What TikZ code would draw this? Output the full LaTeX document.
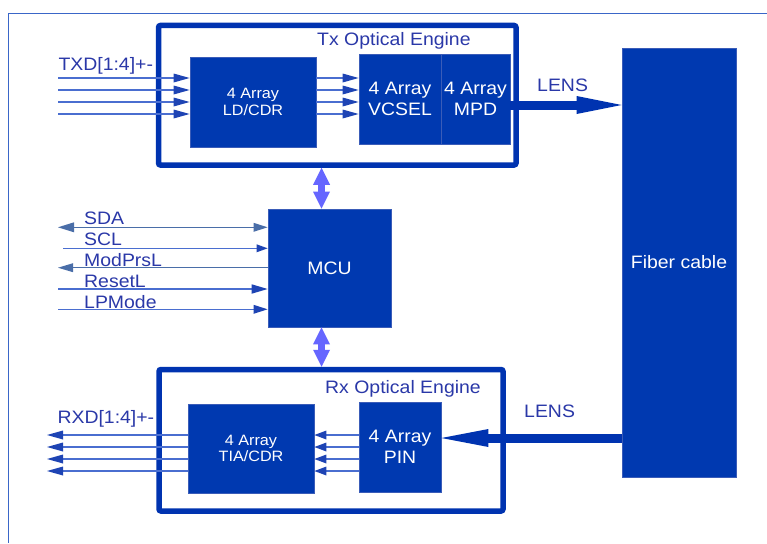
\documentclass[tikz,border=0pt]{standalone}
\usepackage{fontspec}
\setmainfont[FakeStretch=1.08]{Liberation Sans}
\usetikzlibrary{arrows.meta}
\definecolor{blk}{HTML}{0039B0}
\definecolor{blkedge}{HTML}{3A5CB8}
\definecolor{eng}{HTML}{0033B0}
\definecolor{lblc}{HTML}{2A38A8}
\definecolor{sig}{HTML}{4A6ED0}
\definecolor{sigh}{HTML}{1E44B4}
\definecolor{steel}{HTML}{4A6EA8}
\definecolor{framec}{HTML}{3A66C8}
\definecolor{bus}{HTML}{6666FF}
\begin{document}
\begin{tikzpicture}[x=1pt,y=-1pt,
  block/.style={draw=blkedge, line width=0.8pt, fill=blk, text=white, inner sep=0pt, align=center},
  engine/.style={draw=eng, line width=5.5pt, rounded corners=2pt, inner sep=0pt},
  lbl/.style={text=lblc, inner sep=0pt, anchor=base west, font=\fontsize{18}{21}\selectfont},
  big/.style={font=\fontsize{18}{21.5}\selectfont},
  small/.style={font=\fontsize{15}{16.5}\selectfont},
  sigline/.style={draw=sig, line width=1.1pt},
  steelline/.style={draw=steel, line width=1.2pt},
  lens/.style={draw=eng, line width=9pt},
  busarrow/.style={draw=bus, line width=6.5pt, {Triangle[length=17pt,width=17pt,line width=0pt]}-{Triangle[length=17pt,width=17pt,line width=0pt]}}
]
\fill[white] (0,0) rectangle (767,543);
\useasboundingbox (0,0) rectangle (767,543);
% outer frame
\draw[framec, line width=1.5pt] (767,13.3) -- (8.3,13.3) -- (8.3,543);

% engines
\node[engine, minimum width=357.5pt, minimum height=139.5pt] (tx) at (337.25,95.25) {};
\node[engine, minimum width=344pt, minimum height=141.5pt] (rx) at (331,440.25) {};
\node[lbl] (txt) at (317,45.7) {Tx Optical Engine};
\node[lbl] (rxt) at (325,393.3) {Rx Optical Engine};

% blocks
\node[block, small, minimum width=126pt, minimum height=90pt] (ld) at (253,102) {4 Array\\LD/CDR};
\node[block, big, minimum width=82pt, minimum height=90pt] (vcsel) at (400,99) {4 Array\\VCSEL};
\node[block, big, minimum width=69pt, minimum height=90pt] (mpd) at (475.5,99) {4 Array\\MPD};
\node[block, big, minimum width=123pt, minimum height=118pt] (mcu) at (329.5,268) {MCU};
\node[block, small, minimum width=126pt, minimum height=89pt] (tia) at (251,448.5) {4 Array\\TIA/CDR};
\node[block, big, minimum width=82pt, minimum height=90pt] (pin) at (400,447) {4 Array\\PIN};
\node[block, big, minimum width=114pt, minimum height=429pt] (fiber) at (679,262.5) {Fiber cable};

% labels
\node[lbl] (txdl) at (58.3,70.5) {TXD[1:4]+-};
\node[lbl] (rxdl) at (57.3,423.3) {RXD[1:4]+-};
\node[lbl] (lens1l) at (537,91) {LENS};
\node[lbl] (lens2l) at (524,417) {LENS};
\node[lbl] (sdal) at (84,224) {SDA};
\node[lbl] (scll) at (84,245) {SCL};
\node[lbl] (mpl) at (84,266) {ModPrsL};
\node[lbl] (rstl) at (84,287) {ResetL};
\node[lbl] (lpl) at (84,308) {LPMode};

% Tx data lines
\coordinate (ti1) at (58,78);
\coordinate (ti2) at (58,90);
\coordinate (ti3) at (58,102);
\coordinate (ti4) at (58,114);
\foreach \c in {ti1,ti2,ti3,ti4}{
  \draw[sigline, -{Triangle[length=16pt,width=9pt,color=sigh,line width=0pt]}] (\c) -- (\c -| ld.west);
  \draw[sigline, -{Triangle[length=16pt,width=9pt,color=sigh,line width=0pt]}] (ld.east |- \c) -- (vcsel.west |- \c);
}

% Rx data lines
\coordinate (ro1) at (47,435);
\coordinate (ro2) at (47,447);
\coordinate (ro3) at (47,459);
\coordinate (ro4) at (47,471);
\foreach \c in {ro1,ro2,ro3,ro4}{
  \draw[sigline, -{Triangle[length=16pt,width=9pt,color=sigh,line width=0pt]}] (tia.west |- \c) -- (\c);
  \draw[sigline, -{Triangle[length=12pt,width=9pt,color=sigh,line width=0pt]}] (pin.west |- \c) -- (tia.east |- \c);
}

% MCU signals
\coordinate (sda) at (58,227.3);
\coordinate (scl) at (63,248.3);
\coordinate (mp) at (58,267.7);
\coordinate (rst) at (58,289);
\coordinate (lp) at (58,309.3);
\draw[steelline, {Triangle[length=16pt,width=10pt,line width=0pt]}-{Triangle[length=14pt,width=9pt,line width=0pt]}] (sda) -- (mcu.west |- sda);
\draw[sigline, -{Triangle[length=11pt,width=8pt,color=sigh,line width=0pt]}] (scl) -- (mcu.west |- scl);
\draw[steelline, -{Triangle[length=15pt,width=9pt,line width=0pt]}] (mcu.west |- mp) -- (mp);
\draw[sigline, -{Triangle[length=16pt,width=9.5pt,color=sigh,line width=0pt]}] (rst) -- (mcu.west |- rst);
\draw[sigline, -{Triangle[length=14pt,width=9pt,color=sigh,line width=0pt]}] (lp) -- (mcu.west |- lp);

% bus arrows
\coordinate (dx) at (321.5,190);
\draw[busarrow] (tx.south -| dx) -- (mcu.north -| dx);
\draw[busarrow] (mcu.south -| dx) -- (rx.north -| dx);

% lens arrows
\coordinate (l1) at (600,105);
\coordinate (l2) at (550,438);
\draw[lens, -{Triangle[length=45pt,width=18pt,line width=0pt]}] (mpd.east |- l1) -- (fiber.west |- l1);
\draw[lens, -{Triangle[length=47pt,width=18pt,line width=0pt]}] (fiber.west |- l2) -- (pin.east |- l2);
\end{tikzpicture}
\end{document}
